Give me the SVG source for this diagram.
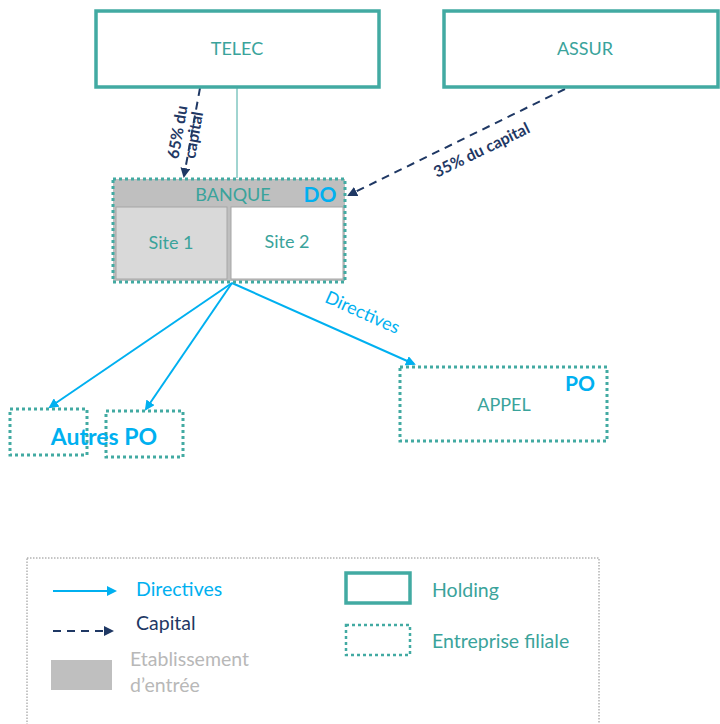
<svg xmlns="http://www.w3.org/2000/svg" width="720" height="724" viewBox="0 0 720 724">
<style>
.holding{fill:#fff;stroke:#42aaa2;stroke-width:3.5}
.filiale{fill:none;stroke:#42aaa2;stroke-width:3;stroke-dasharray:3 3}
.t{font-family:Lato,"Open Sans",sans-serif;fill:#3aa39b}
.n{font-size:18px}
.lg{font-size:19.5px}
.lb{font-size:16px;font-weight:bold;fill:#1f3864}
.big{font-size:21px;font-weight:bold;fill:#00b0f0}
.blue{fill:#00b0f0}
.navy{fill:#1f3864}
.grey{fill:#b8b8b8}
.dir{stroke:#00b0f0;stroke-width:2;fill:none}
.cap{stroke:#1f3864;stroke-width:2;fill:none;stroke-dasharray:8 6}
</style>
<defs>
<marker id="ab" markerWidth="10" markerHeight="10" refX="8" refY="5" orient="auto" markerUnits="userSpaceOnUse"><path d="M0,0 L10,5 L0,10 Z" fill="#00b0f0"/></marker>
<marker id="an" markerWidth="10" markerHeight="10" refX="8" refY="5" orient="auto" markerUnits="userSpaceOnUse"><path d="M0,0 L10,5 L0,10 Z" fill="#1f3864"/></marker>
</defs>
<rect width="720" height="724" fill="#fff"/>
<g id="connectors">
<line x1="237" y1="87" x2="237" y2="178" stroke="#42aaa2" stroke-width="1"/>
<line class="cap" x1="200" y1="88" x2="184" y2="176" marker-end="url(#an)"/>
<line class="cap" x1="565" y1="89" x2="349" y2="195" marker-end="url(#an)"/>
<line class="dir" x1="232" y1="283" x2="50" y2="407" marker-end="url(#ab)"/>
<line class="dir" x1="232" y1="283" x2="146" y2="409" marker-end="url(#ab)"/>
<line class="dir" x1="232" y1="283" x2="414" y2="364" marker-end="url(#ab)"/>
<text class="t lb" transform="translate(183,133) rotate(-80)" text-anchor="middle">65% du</text>
<text class="t lb" transform="translate(199,136) rotate(-80)" text-anchor="middle">capital</text>
<text class="t lb" transform="translate(484,155) rotate(-26)" text-anchor="middle">35% du capital</text>
<text class="t n blue" transform="translate(360,318) rotate(24)" text-anchor="middle">Directives</text>
</g>
<g id="telec">
<rect class="holding" x="96" y="11" width="283" height="76"/>
<text class="t n" x="237" y="55" text-anchor="middle">TELEC</text>
</g>
<g id="assur">
<rect class="holding" x="444" y="11" width="274" height="76"/>
<text class="t n" x="585" y="55" text-anchor="middle">ASSUR</text>
</g>
<g id="banque">
<rect x="113" y="179" width="232" height="102" fill="#bfbfbf"/>
<rect x="116" y="207" width="111" height="72" fill="#d9d9d9" stroke="#a6a6a6" stroke-width="1"/>
<rect x="231" y="207" width="112" height="72" fill="#fff" stroke="#a6a6a6" stroke-width="1"/>
<rect class="filiale" x="113" y="179" width="232" height="103"/>
<text class="t n" x="233" y="201" text-anchor="middle">BANQUE</text>
<text class="t big" x="320" y="202" text-anchor="middle">DO</text>
<text class="t n" x="171" y="249" text-anchor="middle">Site 1</text>
<text class="t n" x="287" y="248" text-anchor="middle">Site 2</text>
</g>
<g id="autres1">
<rect class="filiale" x="10" y="409" width="77" height="46"/>
</g>
<g id="autres2">
<rect class="filiale" x="106" y="411" width="77" height="46"/>
</g>
<text class="t big" x="104" y="445" text-anchor="middle" style="font-size:23px">Autres PO</text>
<g id="appel">
<rect class="filiale" x="400" y="367" width="207" height="74"/>
<text class="t big" x="580" y="391" text-anchor="middle">PO</text>
<text class="t n" x="504" y="411" text-anchor="middle">APPEL</text>
</g>
<g id="legend">
<rect x="27" y="558" width="572" height="170" fill="none" stroke="#8c8c8c" stroke-width="1" stroke-dasharray="1.5 1.5"/>
<line class="dir" x1="53" y1="591" x2="115" y2="591" marker-end="url(#ab)"/>
<text class="t lg blue" x="136" y="596">Directives</text>
<line class="cap" x1="53" y1="631" x2="112" y2="631" stroke-dasharray="7 6" marker-end="url(#an)"/>
<text class="t lg navy" x="136" y="630">Capital</text>
<rect x="51" y="660" width="61" height="30" fill="#bfbfbf"/>
<text class="t lg grey" x="130" y="666">Etablissement</text>
<text class="t lg grey" x="130" y="692">d’entrée</text>
<rect class="holding" x="346" y="573" width="64" height="30"/>
<text class="t lg" x="432" y="597">Holding</text>
<rect class="filiale" x="346" y="625" width="64" height="30" style="stroke-width:2.5"/>
<text class="t lg" x="432" y="648">Entreprise filiale</text>
</g>
</svg>
